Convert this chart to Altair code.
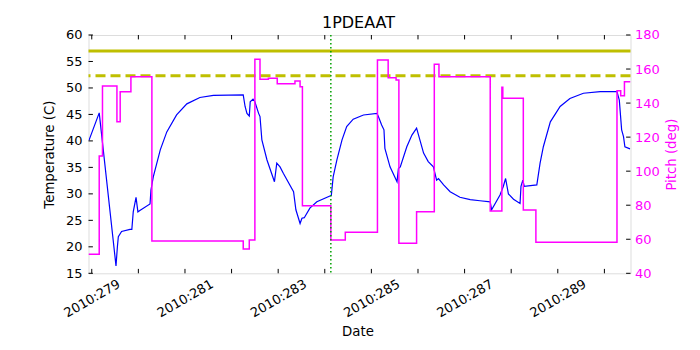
import altair as alt
import pandas as pd

# ---- data ----
temp_day = [278.94, 279.16, 279.52, 279.55, 279.57, 279.64, 279.82, 279.86, 279.89, 279.95,
            279.99, 280.04, 280.25, 280.27, 280.32, 280.47, 280.61, 280.82, 281.04, 281.32,
            281.61, 282.25, 282.29, 282.33, 282.38, 282.40, 282.46, 282.50, 282.58, 282.61,
            282.65, 282.76, 282.92, 282.97, 283.04, 283.11, 283.33, 283.38, 283.47, 283.51,
            283.56, 283.68, 283.83, 284.11, 284.14, 284.18, 284.26, 284.37, 284.47, 284.61,
            284.83, 285.12, 285.15, 285.22, 285.27, 285.29, 285.40, 285.55, 285.58, 285.62,
            285.76, 285.87, 285.97, 286.12, 286.22, 286.33, 286.40, 286.44, 286.55, 286.69,
            286.90, 287.12, 287.33, 287.55, 287.58, 287.76, 287.83, 287.88, 287.94, 288.05,
            288.19, 288.21, 288.25, 288.28, 288.55, 288.62, 288.69, 288.84, 289.05, 289.26,
            289.55, 289.91, 290.27, 290.32, 290.37, 290.41, 290.44, 290.55]
temp_c = [40.1, 45.3, 16.4, 20.0, 21.9, 22.9, 23.3, 23.3, 26.6, 29.35,
          26.6, 26.9, 28.1, 30.7, 33.2, 38.3, 41.7, 44.9, 47.0, 48.2,
          48.6, 48.7, 46.5, 45.2, 44.7, 47.4, 47.9, 47.4, 45.2, 44.6,
          40.2, 36.4, 32.3, 35.8, 35.1, 33.9, 30.4, 27.0, 24.4, 25.4,
          25.5, 27.3, 28.5, 29.6, 29.7, 33.2, 36.4, 40.2, 42.7, 44.1,
          44.9, 45.2, 44.6, 43.0, 42.1, 38.6, 35.1, 32.3, 34.8, 35.1,
          38.9, 41.1, 42.4, 37.7, 36.1, 35.1, 32.6, 32.9, 31.7, 30.4,
          29.35, 28.9, 28.7, 28.5, 27.0, 29.8, 31.4, 32.9, 30.0, 29.0,
          28.2, 31.4, 32.6, 31.4, 31.7, 35.8, 38.9, 43.6, 46.5, 48.0,
          49.0, 49.3, 49.3, 47.7, 42.1, 40.8, 38.9, 38.5]

pitch_day = [278.93, 279.16, 279.23, 279.54, 279.61, 279.84, 280.29, 282.25, 282.38, 282.50,
             282.61, 282.79, 282.98, 283.36, 283.47, 283.52, 284.13, 284.44, 285.13, 285.36,
             285.53, 285.59, 285.97, 286.35, 286.45, 287.55, 287.80, 287.82, 288.26, 288.53,
             290.27, 290.35, 290.43, 290.56]
pitch_deg = [51.2, 108.9, 150.0, 129.1, 146.7, 155.5, 59.0, 54.3, 59.6, 165.7,
             154.0, 154.6, 151.4, 153.0, 149.6, 79.7, 59.6, 64.1, 165.3, 154.9,
             153.6, 57.6, 76.2, 162.8, 155.5, 76.6, 149.3, 142.8, 77.2, 58.2,
             147.3, 144.3, 152.6, 152.6]

limit_solid = [57.0]
limit_dashed = [52.3]
marker_day = [284.13]
chart_title = ["1PDEAAT"]

day_ticks = list(range(279, 291))
temp_ticks = [15, 20, 25, 30, 35, 40, 45, 50, 55, 60]
pitch_ticks = [40, 60, 80, 100, 120, 140, 160, 180]

# ---- layout / style ----
W, H = 542, 238.3
FONT = "DejaVu Sans"
TICK = 4.4

xs = alt.Scale(domain=[278.93, 290.56], nice=False, zero=False)
ts = alt.Scale(domain=[15, 60], nice=False, zero=False)
ps = alt.Scale(domain=[40, 180], nice=False, zero=False)

x_axis = alt.Axis(
    values=day_ticks,
    labelExpr="datum.value % 2 == 1 ? '2010:' + datum.value : ''",
    grid=False, ticks=False, domain=False,
    labelAngle=-30, labelAlign="center", labelBaseline="middle",
    labelPadding=25, labelFontSize=13, labelColor="black", labelFont=FONT,
    labelOverlap=False, labelFlush=False, labelBound=False,
    title="Date", titleFontSize=13.3, titleFontWeight="normal", titleFont=FONT,
    titleColor="black", titleBaseline="alphabetic", titleY=62.7, titleX=W / 2 - 2,
)
left_axis = alt.Axis(
    values=temp_ticks, grid=False, ticks=False, domain=False,
    labelPadding=6.5, labelFontSize=13, labelColor="black", labelFont=FONT,
    labelOverlap=False, labelFlush=False,
    title="Temperature (C)", titleFontSize=13.3, titleFontWeight="normal",
    titleFont=FONT, titleColor="black", titleX=-39, titleY=H / 2,
    titleBaseline="middle", titleAlign="center",
)
right_axis = alt.Axis(
    orient="right", values=pitch_ticks, grid=False, ticks=False, domain=False,
    labelPadding=4, labelFontSize=13, labelColor="#ff00ff", labelFont=FONT,
    labelOverlap=False, labelFlush=False,
    title="Pitch (deg)", titleFontSize=13.3, titleFontWeight="normal",
    titleFont=FONT, titleColor="#ff00ff", titleX=41.4, titleY=H / 2,
    titleAngle=270, titleBaseline="middle", titleAlign="center",
)

temp_df = pd.DataFrame({"day": temp_day, "temp": temp_c})
pitch_df = pd.DataFrame({"day": pitch_day, "pitch": pitch_deg})

yellow_solid = alt.Chart(pd.DataFrame({"temp": limit_solid})).mark_rule(
    color="#bfbf00", strokeWidth=3
).encode(y=alt.Y("temp:Q", scale=ts, axis=left_axis))

yellow_dashed = alt.Chart(pd.DataFrame({"temp": limit_dashed})).mark_rule(
    color="#bfbf00", strokeWidth=3, strokeDash=[10, 5]
).encode(y=alt.Y("temp:Q", scale=ts, axis=left_axis))

blue = alt.Chart(temp_df).mark_line(color="#0000ff", strokeWidth=1.2, clip=True).encode(
    x=alt.X("day:Q", scale=xs, axis=x_axis),
    y=alt.Y("temp:Q", scale=ts, axis=left_axis),
)

left_ticks = alt.Chart(pd.DataFrame({"temp": temp_ticks})).mark_rule(
    color="black", strokeWidth=1
).encode(y=alt.Y("temp:Q", scale=ts, axis=left_axis), x=alt.value(0), x2=alt.value(TICK))

temp_layer = alt.layer(yellow_solid, yellow_dashed, blue, left_ticks)

magenta = alt.Chart(pitch_df).mark_line(
    color="#ff00ff", strokeWidth=1.5, interpolate="step-after", clip=True
).encode(
    x=alt.X("day:Q", scale=xs, axis=x_axis),
    y=alt.Y("pitch:Q", scale=ps, axis=right_axis),
)

right_ticks = alt.Chart(pd.DataFrame({"pitch": pitch_ticks})).mark_rule(
    color="black", strokeWidth=1
).encode(y=alt.Y("pitch:Q", scale=ps, axis=right_axis), x=alt.value(W), x2=alt.value(W - TICK))

pitch_layer = alt.layer(magenta, right_ticks)

ticks_df = pd.DataFrame({"day": day_ticks})
bottom_ticks = alt.Chart(ticks_df).mark_rule(color="black", strokeWidth=1).encode(
    x=alt.X("day:Q", scale=xs, axis=x_axis), y=alt.value(H), y2=alt.value(H - TICK)
)
top_ticks = alt.Chart(ticks_df).mark_rule(color="black", strokeWidth=1).encode(
    x=alt.X("day:Q", scale=xs, axis=x_axis), y=alt.value(0), y2=alt.value(TICK)
)
green = alt.Chart(pd.DataFrame({"day": marker_day})).mark_rule(
    color="#00a000", strokeWidth=1.5, strokeDash=[1.5, 2.5]
).encode(x=alt.X("day:Q", scale=xs, axis=x_axis))

title_text = alt.Chart(pd.DataFrame({"t": chart_title})).mark_text(
    font=FONT, fontSize=16, color="black", align="center", baseline="alphabetic"
).encode(text="t:N", x=alt.value(W / 2 - 1), y=alt.value(-6.7))

extras = alt.layer(bottom_ticks, top_ticks, green, title_text)

chart = alt.layer(temp_layer, pitch_layer, extras).resolve_scale(
    y="independent"
).properties(
    width=W, height=H,
    autosize=alt.AutoSizeParams(type="none"),
    padding={"left": 80.5, "top": 27, "right": 60, "bottom": 70},
).configure_view(stroke="black", strokeWidth=1).configure(font=FONT, background="white")

chart.save("out.html", embed_options={"renderer": "svg", "actions": False})
